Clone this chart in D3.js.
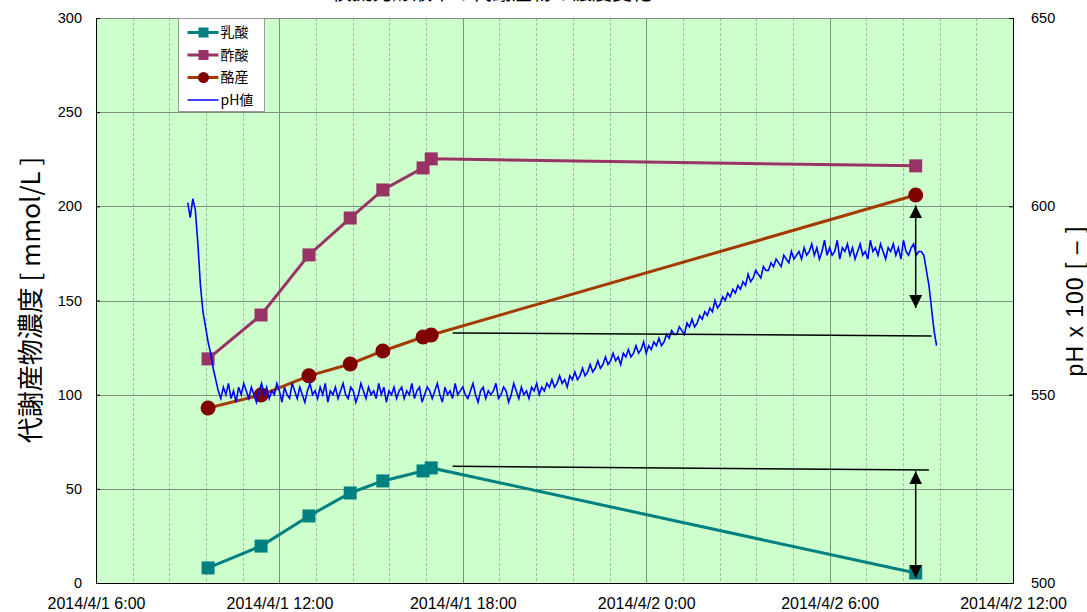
<!DOCTYPE html>
<html>
<head>
<meta charset="utf-8">
<script src="https://cdn.jsdelivr.net/npm/d3@7"></script>
<style>
  body { margin: 0; background: #fff; }
  text { font-family: "Liberation Sans", Arial, "Noto Sans CJK JP", sans-serif; }
  .jp { font-family: "Noto Sans CJK JP", sans-serif; }
</style>
</head>
<body>
<script>
const WIDTH = 1087
const HEIGHT = 612
const LEFT = 96, RIGHT = 1013, TOP = 18, BOTTOM = 583

// sampling times of the metabolite analyses
const sampleTimes = ["2014-04-01 09:40", "2014-04-01 11:24", "2014-04-01 12:58", "2014-04-01 14:19",
    "2014-04-01 15:23", "2014-04-01 16:42", "2014-04-01 16:58", "2014-04-02 08:49"]
const lactic = [8.0, 19.6, 35.6, 47.8, 54.2, 59.5, 61.1, 5.3]
const acetic = [119, 142.3, 174.2, 193.8, 208.7, 220.4, 225.2, 221.5]
const butyric = [92.9, 99.8, 110, 116.3, 123.2, 130.6, 131.7, 206]

// pH logger, every 5 min from 2014/4/1 9:00 (one row = one hour)
const phStart = "2014-04-01 09:00"
const phStepMin = 5
const phValues = [
    601, 597, 602, 599, 590, 579, 572, 568, 564, 561, 557, 554,
    551, 549, 552, 550, 553, 549, 551, 548, 552, 550, 553, 551,
    549, 552, 550, 548, 551, 553, 550, 552, 549, 551, 550, 553,
    551, 548, 552, 550, 549, 553, 551, 549, 552, 550, 548, 551,
    553, 550, 551, 549, 552, 550, 553, 548, 551, 550, 552, 549,
    551, 553, 550, 549, 552, 551, 548, 550, 553, 551, 549, 552,
    550, 551, 549, 553, 550, 552, 548, 551, 550, 552, 549, 551,
    552, 549, 551, 550, 553, 549, 551, 552, 548, 550, 552, 551,
    549, 551, 553, 550, 548, 552, 550, 551, 549, 553, 550, 551,
    552, 550, 549, 551, 553, 550, 548, 551, 552, 549, 551, 550,
    551, 553, 549, 550, 552, 551, 548, 550, 553, 551, 549, 552,
    550, 551, 549, 552, 551, 553, 550, 552, 551, 553, 552, 554,
    552, 553, 555, 553, 554, 552, 555, 554, 556, 554, 555, 557,
    555, 556, 558, 556, 557, 559, 557, 558, 560, 558, 559, 561,
    559, 560, 558, 561, 560, 562, 560, 561, 563, 561, 562, 564,
    561, 563, 562, 564, 563, 565, 563, 564, 566, 565, 567, 566,
    566, 568, 567, 566, 569, 568, 570, 568, 569, 571, 570, 572,
    571, 573, 572, 575, 573, 574, 576, 575, 577, 576, 578, 577,
    579, 578, 580, 579, 582, 580, 581, 583, 582, 581, 584, 583,
    583, 585, 584, 586, 585, 584, 587, 586, 585, 588, 586, 587,
    588, 586, 589, 587, 588, 590, 587, 589, 586, 588, 591, 587,
    589, 587, 588, 591, 586, 589, 588, 590, 587, 589, 586, 588,
    590, 587, 588, 586, 591, 588, 589, 587, 590, 588, 586, 589,
    588, 590, 587, 589, 586, 591, 588, 587, 589, 590, 587, 588,
    588, 587, 583, 579, 573, 567, 563
]

// annotation lines / arrows (left axis units)
const guideLines = [
    { t1: "2014-04-01 17:40", t2: "2014-04-02 09:20", v1: 132.8, v2: 131.2 },
    { t1: "2014-04-01 17:40", t2: "2014-04-02 09:15", v1: 62, v2: 60 }
]
const arrows = [
    { t: "2014-04-02 08:49", v1: 146, v2: 200.5 },
    { t: "2014-04-02 08:49", v1: 2.7, v2: 59.3 }
]

const leftTicks = [0, 50, 100, 150, 200, 250, 300]
const rightTicks = [500, 550, 600, 650]
const xDomain = ["2014-04-01 06:00", "2014-04-02 12:00"]

const parse = d3.timeParse("%Y-%m-%d %H:%M")
const sTimes = sampleTimes.map(parse)
const t0 = parse(phStart)
const phData = phValues.map((v, i) => ({ t: d3.timeMinute.offset(t0, i * phStepMin), v }))

const svg = d3.select('body').append('svg')
    .attr('width', WIDTH).attr('height', HEIGHT)

const x = d3.scaleTime().domain(xDomain.map(parse)).range([LEFT, RIGHT])
const yL = d3.scaleLinear().domain([0, 300]).range([BOTTOM, TOP])
const yR = d3.scaleLinear().domain([500, 650]).range([BOTTOM, TOP])
const px = v => Math.round(v) + 0.5

// plot background
svg.append('rect')
    .attr('x', LEFT).attr('y', TOP)
    .attr('width', RIGHT - LEFT).attr('height', BOTTOM - TOP)
    .attr('fill', '#ccffcc')

// vertical grid: minor every 72 min, major every 6 h
const xStart = x.domain()[0]
const HOUR = 3600e3
const minorX = d3.range(1, 25).filter(i => i % 5 !== 0).map(i => new Date(+xStart + i * 1.2 * HOUR))
const majorX = d3.range(1, 5).map(i => new Date(+xStart + i * 6 * HOUR))

svg.append('g').selectAll('line').data(minorX).enter().append('line')
    .attr('x1', d => px(x(d))).attr('x2', d => px(x(d)))
    .attr('y1', TOP).attr('y2', BOTTOM)
    .attr('stroke', '#a3bca3').attr('stroke-dasharray', '3,2')
svg.append('g').selectAll('line').data(majorX).enter().append('line')
    .attr('x1', d => px(x(d))).attr('x2', d => px(x(d)))
    .attr('y1', TOP).attr('y2', BOTTOM)
    .attr('stroke', '#7f8f7f')
svg.append('g').selectAll('line').data(leftTicks.slice(1, -1)).enter().append('line')
    .attr('x1', LEFT).attr('x2', RIGHT)
    .attr('y1', d => px(yL(d))).attr('y2', d => px(yL(d)))
    .attr('stroke', '#7f8f7f')

// frame
svg.append('line').attr('x1', LEFT).attr('x2', RIGHT).attr('y1', TOP + 0.5).attr('y2', TOP + 0.5).attr('stroke', '#888')
svg.append('path')
    .attr('d', `M${LEFT + 0.5},${TOP}V${BOTTOM + 0.5}H${RIGHT + 0.5}V${TOP}`)
    .attr('fill', 'none').attr('stroke', '#000')

// axes
const axL = svg.append('g').attr('transform', `translate(${LEFT},0)`)
    .call(d3.axisLeft(yL).tickValues(leftTicks).tickSize(-4).tickPadding(14))
const axR = svg.append('g').attr('transform', `translate(${RIGHT},0)`)
    .call(d3.axisRight(yR).tickValues(rightTicks).tickSize(-4).tickPadding(18))
const fmt = d3.timeFormat("%Y/%-m/%-d %-H:%M")
const axB = svg.append('g').attr('transform', `translate(0,${BOTTOM})`)
    .call(d3.axisBottom(x).tickValues([xStart, ...majorX, x.domain()[1]]).tickFormat(fmt).tickSize(0).tickPadding(15))
;[axL, axR, axB].forEach(g => {
    g.select('.domain').remove()
    g.selectAll('text').attr('font-size', 14.5).attr('fill', '#000')
    g.selectAll('line').attr('stroke', '#000')
})
axB.selectAll('text').attr('font-size', 16)

// axis titles
svg.append('text').attr('class', 'jp')
    .attr('transform', 'translate(30,300) rotate(-90)')
    .attr('text-anchor', 'middle').attr('dy', '0.38em').attr('font-size', 26)
    .text('代謝産物濃度 [ mmol/L ]')
svg.append('text')
    .attr('transform', 'translate(1075,301) rotate(-90)')
    .attr('text-anchor', 'middle').attr('dy', '0.35em').attr('font-size', 23)
    .attr('letter-spacing', 1)
    .text('pH x 100 [ – ]')

// title (cut off at the top edge, as in the original)
svg.append('text').attr('class', 'jp')
    .attr('x', 492).attr('y', 0)
    .attr('text-anchor', 'middle').attr('font-size', 20)
    .text('模擬発酵液中の代謝産物の濃度変化')

const series = [
    { name: '乳酸', values: lactic, line: '#008080', fill: '#008080', shape: 'square' },
    { name: '酢酸', values: acetic, line: '#993366', fill: '#993366', shape: 'square' },
    { name: '酪産', values: butyric, line: '#a33a00', fill: '#800000', shape: 'circle' }
]

const lineGen = d3.line().x(d => x(d.t)).y(d => yL(d.v))
series.forEach(s => {
    const pts = s.values.map((v, i) => ({ t: sTimes[i], v }))
    svg.append('path').datum(pts)
        .attr('d', lineGen)
        .attr('fill', 'none').attr('stroke', s.line).attr('stroke-width', 3)
    if (s.shape === 'square') {
        svg.append('g').selectAll('rect').data(pts).enter().append('rect')
            .attr('x', d => x(d.t) - 6.5).attr('y', d => yL(d.v) - 6.5)
            .attr('width', 13).attr('height', 13)
            .attr('fill', s.fill)
    } else {
        svg.append('g').selectAll('circle').data(pts).enter().append('circle')
            .attr('cx', d => x(d.t)).attr('cy', d => yL(d.v)).attr('r', 7.5)
            .attr('fill', s.fill)
    }
})

// pH line on secondary axis
svg.append('path').datum(phData)
    .attr('d', d3.line().x(d => x(d.t)).y(d => yR(d.v)))
    .attr('fill', 'none').attr('stroke', '#0000ff').attr('stroke-width', 1.6)

// annotations
svg.append('g').selectAll('line').data(guideLines).enter().append('line')
    .attr('x1', d => x(parse(d.t1))).attr('x2', d => x(parse(d.t2)))
    .attr('y1', d => yL(d.v1)).attr('y2', d => yL(d.v2))
    .attr('stroke', '#000').attr('stroke-width', 1.5)

svg.append('defs').append('marker')
    .attr('id', 'head').attr('viewBox', '0 0 10 10')
    .attr('refX', 10).attr('refY', 5)
    .attr('markerWidth', 13).attr('markerHeight', 13)
    .attr('markerUnits', 'userSpaceOnUse')
    .attr('orient', 'auto-start-reverse')
    .append('path').attr('d', 'M0,0L10,5L0,10Z').attr('fill', '#000')

svg.append('g').selectAll('line').data(arrows).enter().append('line')
    .attr('x1', d => x(parse(d.t))).attr('x2', d => x(parse(d.t)))
    .attr('y1', d => yL(d.v1)).attr('y2', d => yL(d.v2))
    .attr('stroke', '#000').attr('stroke-width', 1.5)
    .attr('marker-start', 'url(#head)').attr('marker-end', 'url(#head)')

// legend
const legend = svg.append('g').attr('transform', 'translate(178.5,18.5)')
legend.append('rect').attr('width', 86).attr('height', 93)
    .attr('fill', '#fff').attr('stroke', '#999')
const legItems = [...series, { name: 'pH値', line: '#0000ff', shape: 'none' }]
legItems.forEach((s, i) => {
    const gy = 14 + i * 22.5
    const g = legend.append('g').attr('transform', `translate(0,${gy})`)
    g.append('line').attr('x1', 9).attr('x2', 40).attr('y1', 0).attr('y2', 0)
        .attr('stroke', s.line).attr('stroke-width', s.shape === 'none' ? 1.5 : 3)
    if (s.shape === 'square') g.append('rect').attr('x', 20).attr('y', -5).attr('width', 10).attr('height', 10).attr('fill', s.fill)
    if (s.shape === 'circle') g.append('circle').attr('cx', 25).attr('cy', 0).attr('r', 5.5).attr('fill', s.fill)
    g.append('text').attr('class', 'jp').attr('x', 42).attr('y', 0).attr('dy', '0.35em')
        .attr('font-size', 14).text(s.name)
})
</script>
</body>
</html>
